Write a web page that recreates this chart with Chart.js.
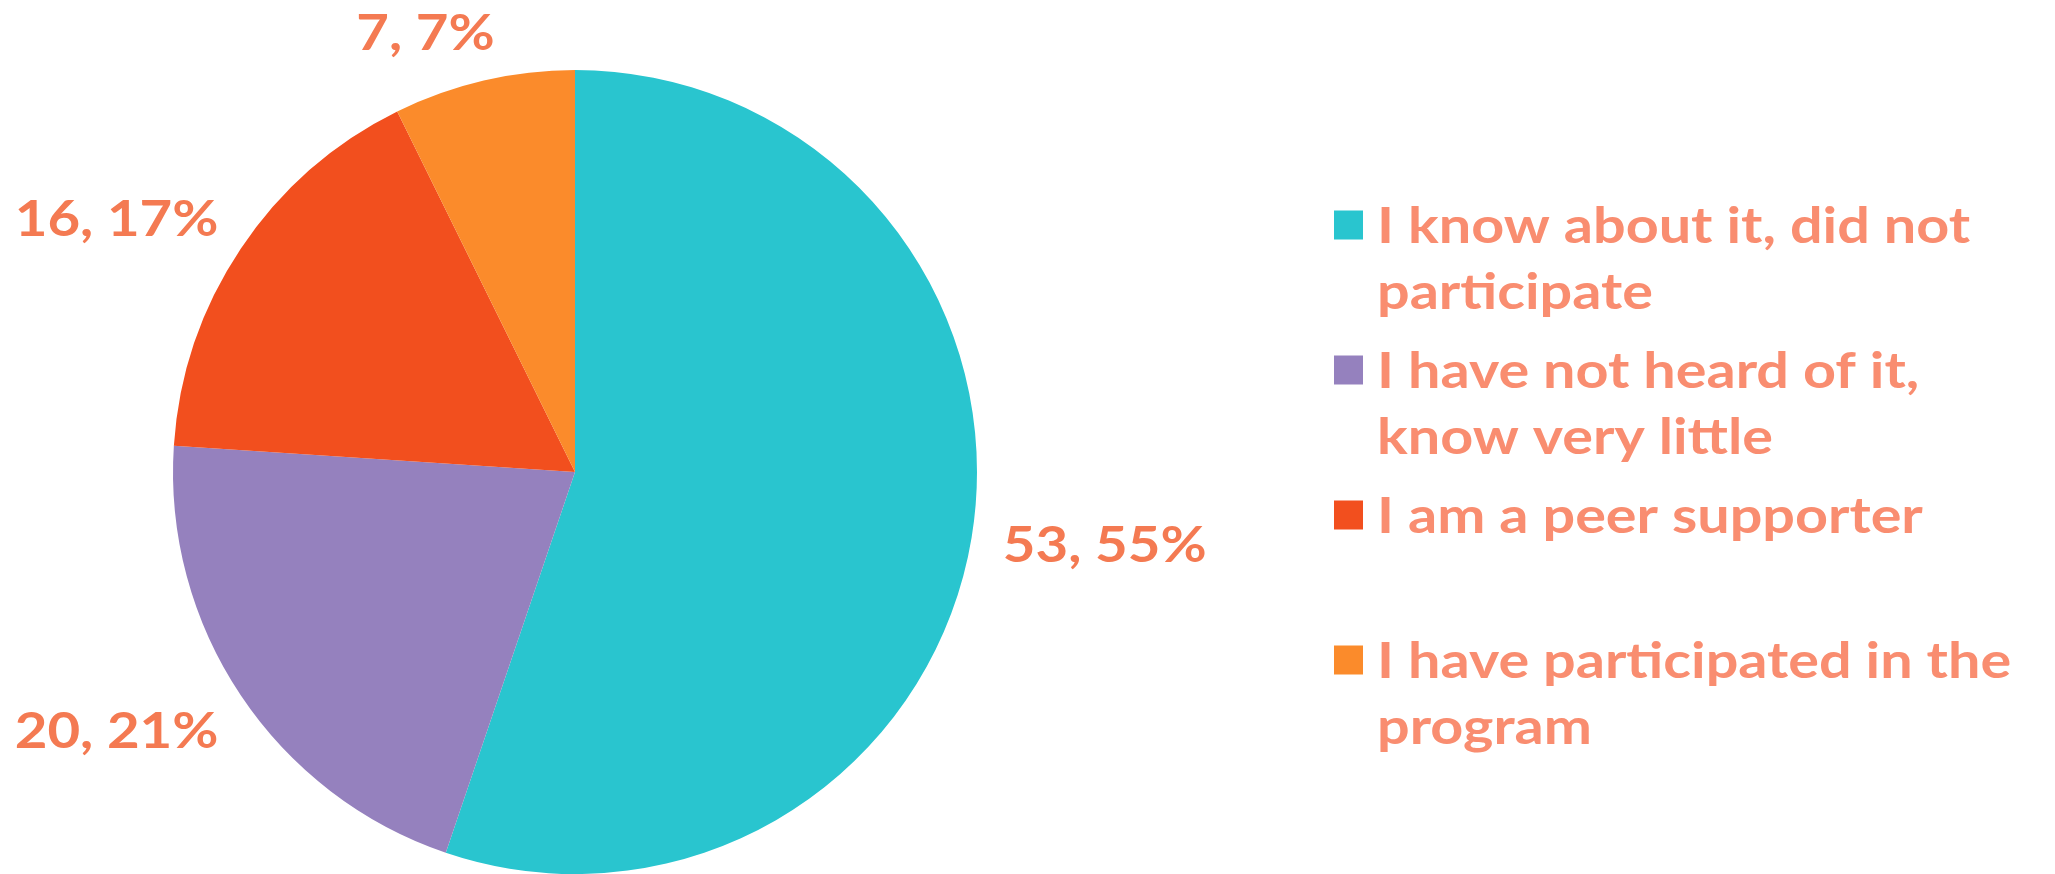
<!DOCTYPE html>
<html>
<head>
<meta charset="utf-8">
<script src="https://cdn.jsdelivr.net/npm/chart.js@4.4.1/dist/chart.umd.min.js"></script>
<style>
  html, body { margin: 0; padding: 0; background: #fff; }
  #wrap { width: 2055px; height: 874px; }
</style>
</head>
<body>
<div id="wrap"><canvas id="pie" width="2055" height="874"></canvas></div>
<script>
// answers, wrapped the way the legend shows them
const categories = [
  ["I know about it, did not", "participate"],
  ["I have not heard of it,", "know very little"],
  ["I am a peer supporter"],
  ["I have participated in the", "program"]
];
const counts = [53, 20, 16, 7];
const percents = ["55%", "21%", "17%", "7%"];
const colors = ["#29C5CF", "#9581BE", "#F24F1E", "#FB8B2B"];

const FONT = "Lato, 'DejaVu Sans', sans-serif";
const LABEL_COLOR = "#F47A52";
const LEGEND_COLOR = "#F98D70";
const STRETCH = 1.15; // widen the glyphs a bit, the deck font is a wide geometric one

// hand nudges for the outside labels (px), same order as the slices
const LABEL_NUDGE = [[0, 0], [-12, 6], [-12, 2], [-35, 8]];

// labels just outside each slice, pushed out by half the text box
const outsideLabels = {
  id: "outsideLabels",
  afterDatasetsDraw(chart) {
    const ctx = chart.ctx;
    const meta = chart.getDatasetMeta(0);
    ctx.save();
    ctx.font = "bold 49px " + FONT;
    ctx.fillStyle = LABEL_COLOR;
    ctx.textAlign = "center";
    ctx.textBaseline = "middle";
    meta.data.forEach((arc, i) => {
      const p = arc.getProps(["x", "y", "startAngle", "endAngle", "outerRadius"], true);
      const mid = (p.startAngle + p.endAngle) / 2;
      const ux = Math.cos(mid), uy = Math.sin(mid);
      const text = counts[i] + ", " + percents[i];
      const w = ctx.measureText(text).width * STRETCH;
      const h = 45;
      const d = p.outerRadius + 33;
      const cx = p.x + ux * d + ux * w / 2 + LABEL_NUDGE[i][0];
      const cy = p.y + uy * d + uy * h / 2 + LABEL_NUDGE[i][1];
      ctx.save();
      ctx.translate(cx, cy);
      ctx.scale(STRETCH, 1);
      ctx.fillText(text, 0, 0);
      ctx.restore();
    });
    ctx.restore();
  }
};

// legend on the right: one fixed-height slot per answer
const sideLegend = {
  id: "sideLegend",
  afterDraw(chart) {
    const ctx = chart.ctx;
    const left = 1334, box = 29, textX = 1377;
    const top = 225, slot = 145, lineH = 66;
    ctx.save();
    ctx.font = "bold 50px " + FONT;
    ctx.textBaseline = "middle";
    ctx.textAlign = "left";
    chart.data.labels.forEach((lines, i) => {
      const y = top + i * slot;
      ctx.fillStyle = chart.data.datasets[0].backgroundColor[i];
      ctx.fillRect(left, y - box / 2, box, box);
      ctx.fillStyle = LEGEND_COLOR;
      lines.forEach((ln, j) => {
        ctx.save();
        ctx.translate(textX, y + j * lineH + 2);
        ctx.scale(STRETCH, 1);
        ctx.fillText(ln, 0, 0);
        ctx.restore();
      });
    });
    ctx.restore();
  }
};

new Chart(document.getElementById("pie"), {
  type: "pie",
  data: {
    labels: categories,
    datasets: [{
      data: counts,
      backgroundColor: colors,
      borderWidth: 0
    }]
  },
  options: {
    responsive: false,
    animation: false,
    layout: { padding: { top: 70, bottom: 0, left: 173, right: 1078 } },
    plugins: {
      legend: { display: false },
      tooltip: { enabled: false }
    }
  },
  plugins: [outsideLabels, sideLegend]
});
</script>
</body>
</html>
